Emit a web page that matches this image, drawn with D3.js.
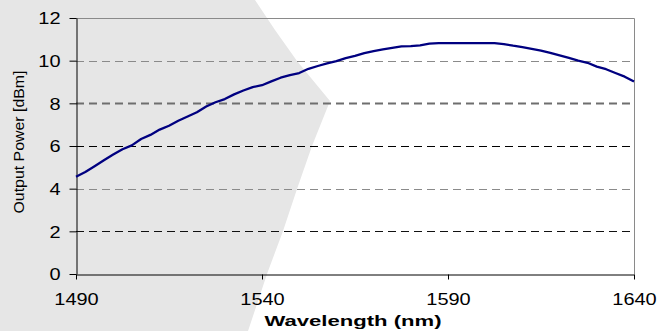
<!DOCTYPE html>
<html><head><meta charset="utf-8">
<script src="https://cdn.jsdelivr.net/npm/d3@7"></script>
<style>html,body{margin:0;padding:0;background:#fff;}svg{display:block;}</style>
</head><body>
<svg id="c" width="672" height="331"></svg>
<script>
const wavelengths = [1490,1492.5,1495,1497.5,1500,1502.5,1505,1507.5,1510,1512.5,1515,1517.5,1520,1522.5,1525,1527.5,1530,1532.5,1535,1537.5,1540,1542.5,1545,1547.5,1550,1552.5,1555,1557.5,1560,1562.5,1565,1567.5,1570,1572.5,1575,1577.5,1580,1582.5,1585,1587.5,1590,1592.5,1595,1597.5,1600,1602.5,1605,1607.5,1610,1612.5,1615,1617.5,1620,1622.5,1625,1627.5,1630,1632.5,1635,1637.5,1640];
const outputPower = [4.56,4.78,5.05,5.33,5.60,5.85,6.03,6.33,6.52,6.77,6.95,7.18,7.38,7.58,7.85,8.05,8.20,8.42,8.60,8.76,8.85,9.03,9.20,9.32,9.42,9.62,9.75,9.87,9.98,10.12,10.22,10.35,10.45,10.53,10.60,10.67,10.68,10.72,10.80,10.82,10.82,10.82,10.82,10.82,10.82,10.82,10.78,10.70,10.63,10.55,10.47,10.37,10.25,10.13,10.00,9.90,9.72,9.60,9.42,9.25,9.02];
const xTicks = [1490,1540,1590,1640];
const yTicks = [0,2,4,6,8,10,12];
const xTitle = "Wavelength (nm)";
const yTitle = "Output Power [dBm]";

const svg = d3.select("#c");
const L = 76, R = 634, T = 18, B = 274;
const x = d3.scaleLinear().domain([1490,1640]).range([L,R]);
const y = d3.scaleLinear().domain([0,12]).range([B,T]);

// decorative grey background shape
svg.append("path")
  .attr("d","M0,0 L255,0 L275,30 L297,61 L330,101 L312,146 L297,189 L283,231 L267,274 L248,331 L0,331 Z")
  .attr("fill","#e6e6e6");

// plot frame (top/right)
svg.append("path").attr("d",`M${L},${T+0.5} H${R+0.5} V${B}`).attr("fill","none").attr("stroke","#8a8a8a").attr("stroke-width",1);

// gridlines
const gridStyle = {10:["#8a8a8a",1],8:["#6e6e6e",2],6:["#000",1],4:["#8a8a8a",1],2:["#111",1]};
svg.append("g").selectAll("line").data(yTicks.filter(d=>d>0&&d<12)).join("line")
  .attr("x1",L).attr("x2",R)
  .attr("y1",d=>Math.round(y(d))+0.5).attr("y2",d=>Math.round(y(d))+0.5)
  .attr("stroke",d=>gridStyle[d][0]).attr("stroke-width",d=>gridStyle[d][1])
  .attr("stroke-dasharray","8,5");

// axes
const yAxis = svg.append("g").attr("transform",`translate(${L+0.5},0)`)
  .call(d3.axisLeft(y).tickValues(yTicks).tickSize(7).tickSizeOuter(0).tickPadding(9));
const xAxis = svg.append("g").attr("transform",`translate(0,${B+0.5})`)
  .call(d3.axisBottom(x).tickValues(xTicks).tickSize(5).tickSizeOuter(0).tickPadding(14).tickFormat(d3.format("d")));
[yAxis,xAxis].forEach(g=>{
  g.select(".domain").attr("stroke","#000");
  g.selectAll(".tick line").attr("stroke","#000");
  g.selectAll(".tick text").attr("fill","#000")
    .style("font-family","'Liberation Sans',Arial,sans-serif").style("font-size","16px")
    .attr("lengthAdjust","spacingAndGlyphs")
    .attr("textLength",function(){return this.textContent.length*11.1;});
});
yAxis.selectAll(".tick text").attr("dy","0.36em");
xAxis.selectAll(".tick text").attr("dy","0.71em");

// data line
svg.append("path")
  .datum(wavelengths.map((w,i)=>[w,outputPower[i]]))
  .attr("fill","none").attr("stroke","#000080").attr("stroke-width",2.3)
  .attr("stroke-linejoin","round")
  .attr("d",d3.line().x(d=>x(d[0])).y(d=>y(d[1])));

// titles
svg.append("text").text(xTitle)
  .attr("x",353).attr("y",326).attr("text-anchor","middle")
  .style("font-family","'Liberation Sans',Arial,sans-serif").style("font-size","14px").style("font-weight","bold")
  .attr("lengthAdjust","spacingAndGlyphs").attr("textLength",177);
svg.append("text").text(yTitle)
  .attr("transform","translate(24,142) rotate(-90)").attr("text-anchor","middle")
  .style("font-family","'Liberation Sans',Arial,sans-serif").style("font-size","15px")
  .attr("lengthAdjust","spacingAndGlyphs").attr("textLength",143);
</script>
</body></html>
